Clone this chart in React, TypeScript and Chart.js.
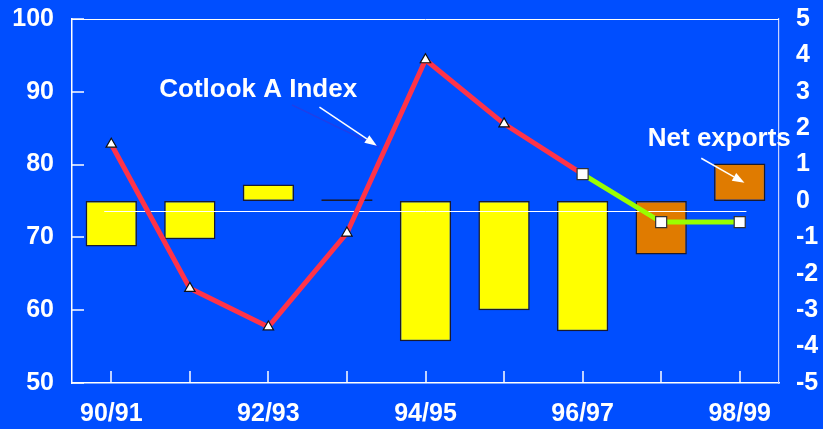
import React, { useEffect, useRef } from 'react';
import { Chart, registerables } from 'chart.js';

Chart.register(...registerables);

// ---------- data ----------
const categories = ['90/91', '91/92', '92/93', '93/94', '94/95', '95/96', '96/97', '97/98', '98/99'];
const labeledCategories = ['90/91', '92/93', '94/95', '96/97', '98/99'];
// Net exports (right axis)
const netExports = [-1.25, -1.05, 0.45, 0.05, -3.85, -3.0, -3.58, -1.47, 1.03];
// Cotlook A Index (left axis)
const cotlookActual = [82.8, 63.0, 57.7, 70.6, 94.4, 85.6, 78.7, null, null];
const cotlookForecast = [null, null, null, null, null, null, 78.7, 72.1, 72.1];
const forecastBarStart = 7;
// left axis
const leftMin = 50;
const leftMax = 100;
const leftStep = 10;
// right axis
const rightMin = -5;
const rightMax = 5;
const rightStep = 1;
// thin reference line (left axis value)
const referenceLevel = 73.6;

// annotations: positions in data coordinates (category index, left-axis value)
const annotations = [
  { text: 'Cotlook A Index', tx: 1.87, ty: 89.35, ax0: 2.65, ay0: 87.9, ax1: 3.38, ay1: 82.6, sx0: 2.3, sy0: 88.2 },
  { text: 'Net exports', tx: 7.74, ty: 82.49, ax0: 7.51, ay0: 80.87, ax1: 8.06, ay1: 77.5, sx0: null, sy0: null },
];

const BLUE = '#004EFF';
const WHITE = '#FFFFFF';
const FONT = '"Liberation Sans", Arial, Helvetica, sans-serif';

const decorPlugin = {
  id: 'decor',
  beforeDraw(chart: any) {
    const ctx = chart.ctx;
    ctx.save();
    ctx.fillStyle = BLUE;
    ctx.fillRect(0, 0, chart.width, chart.height);
    ctx.restore();
  },
  beforeDatasetDraw(chart: any, args: any) {
    if (args.index !== 1) return;
    const ctx = chart.ctx;
    const xs = chart.scales.x;
    const ys = chart.scales.y;
    const step = xs.getPixelForValue(1) - xs.getPixelForValue(0);
    const x0 = xs.getPixelForValue(0) - step * 0.09;
    const x1 = xs.getPixelForValue(categories.length - 1) + step * 0.085;
    const yp = Math.round(ys.getPixelForValue(referenceLevel)) + 0.5;
    ctx.save();
    ctx.strokeStyle = WHITE;
    ctx.lineWidth = 1;
    ctx.beginPath();
    ctx.moveTo(x0, yp);
    ctx.lineTo(x1, yp);
    ctx.stroke();
    ctx.restore();
  },
  afterDatasetsDraw(chart: any) {
    const ctx = chart.ctx;
    const { left, right, top, bottom } = chart.chartArea;
    const xs = chart.scales.x;
    const ys = chart.scales.y;
    ctx.save();
    // top frame line
    ctx.strokeStyle = WHITE;
    ctx.lineWidth = 1;
    ctx.beginPath();
    ctx.moveTo(left, top + 0.5);
    ctx.lineTo(right, top + 0.5);
    ctx.stroke();
    // inward left ticks
    ctx.lineWidth = 1.5;
    ys.ticks.forEach((_t: any, i: number) => {
      const p = Math.round(ys.getPixelForTick(i));
      ctx.beginPath();
      ctx.moveTo(left, p);
      ctx.lineTo(left + 12, p);
      ctx.stroke();
    });
    // inward bottom ticks
    categories.forEach((_c, i) => {
      const p = Math.round(xs.getPixelForValue(i));
      ctx.beginPath();
      ctx.moveTo(p, bottom);
      ctx.lineTo(p, bottom - 12);
      ctx.stroke();
    });
    // annotations
    const px = (v: number) => {
      const a = xs.getPixelForValue(0);
      const b = xs.getPixelForValue(1);
      return a + (b - a) * v;
    };
    const py = (v: number) => ys.getPixelForValue(v);
    annotations.forEach((an) => {
      if (an.sx0 !== null) {
        ctx.strokeStyle = '#1F3FE8';
        ctx.lineWidth = 1.5;
        ctx.beginPath();
        ctx.moveTo(px(an.sx0 as number), py(an.sy0 as number));
        ctx.lineTo(px(an.ax1) + 2, py(an.ay1) + 1.5);
        ctx.stroke();
      }
      const x0 = px(an.ax0), y0 = py(an.ay0), x1 = px(an.ax1), y1 = py(an.ay1);
      const ang = Math.atan2(y1 - y0, x1 - x0);
      const hl = 12, hw = 4.5;
      const bx = x1 - Math.cos(ang) * hl, by = y1 - Math.sin(ang) * hl;
      ctx.strokeStyle = WHITE;
      ctx.fillStyle = WHITE;
      ctx.lineWidth = 1.5;
      ctx.beginPath();
      ctx.moveTo(x0, y0);
      ctx.lineTo(bx, by);
      ctx.stroke();
      ctx.beginPath();
      ctx.moveTo(x1, y1);
      ctx.lineTo(bx + Math.sin(ang) * hw, by - Math.cos(ang) * hw);
      ctx.lineTo(bx - Math.sin(ang) * hw, by + Math.cos(ang) * hw);
      ctx.closePath();
      ctx.fill();
      ctx.font = `bold 26px ${FONT}`;
      ctx.textAlign = 'center';
      ctx.textBaseline = 'alphabetic';
      ctx.fillText(an.text, px(an.tx), py(an.ty));
    });
    ctx.restore();
  },
};

export default function App() {
  const canvasRef = useRef<HTMLCanvasElement | null>(null);

  useEffect(() => {
    document.body.style.margin = '0';
    document.body.style.background = BLUE;
    const canvas = canvasRef.current;
    if (!canvas) return;
    const tickFont = { family: FONT, size: 25, weight: 'bold' as const };
    const chart = new Chart(canvas, {
      data: {
        labels: categories,
        datasets: [
          {
            type: 'line',
            label: 'Cotlook A Index (forecast)',
            data: cotlookForecast,
            yAxisID: 'y',
            borderColor: '#99FF00',
            borderWidth: 5,
            pointStyle: 'rect',
            pointRadius: 7.8,
            pointBackgroundColor: WHITE,
            pointBorderColor: '#333333',
            pointBorderWidth: 1.2,
            spanGaps: false,
            order: 0,
          },
          {
            type: 'line',
            label: 'Cotlook A Index',
            data: cotlookActual,
            yAxisID: 'y',
            borderColor: '#FF3348',
            borderWidth: 5,
            pointStyle: 'triangle',
            pointRadius: cotlookActual.map((_v, i) => (cotlookForecast[i] !== null ? 0 : 6)),
            pointBackgroundColor: WHITE,
            pointBorderColor: '#111111',
            pointBorderWidth: 1.2,
            order: 1,
          },
          {
            type: 'bar',
            label: 'Net exports',
            data: netExports,
            yAxisID: 'y1',
            backgroundColor: netExports.map((_v, i) => (i >= forecastBarStart ? '#E07B00' : '#FFFF00')),
            borderColor: '#1A1A2E',
            borderWidth: 1.5,
            borderSkipped: false,
            categoryPercentage: 1,
            barPercentage: 0.653,
            order: 2,
          },
        ],
      } as any,
      options: {
        responsive: false,
        animation: false,
        devicePixelRatio: 1,
        layout: { padding: { top: 19, left: 0, right: 0, bottom: 0 } },
        plugins: {
          legend: { display: false },
          tooltip: { enabled: false },
        },
        scales: {
          x: {
            type: 'category',
            position: 'bottom',
            offset: true,
            grid: { display: false, drawTicks: false },
            border: { display: true, color: WHITE, width: 1.5 },
            ticks: {
              color: WHITE,
              font: tickFont,
              padding: 16.5,
              maxRotation: 0,
              autoSkip: false,
              callback: (_v: any, i: number) => (labeledCategories.includes(categories[i]) ? categories[i] : ''),
            },
            afterFit: (s: any) => {
              s.height = 46;
              s.paddingLeft = 0;
              s.paddingRight = 0;
            },
          },
          y: {
            type: 'linear',
            position: 'left',
            min: leftMin,
            max: leftMax,
            grid: { display: false, drawTicks: false },
            border: { display: true, color: WHITE, width: 1.5 },
            ticks: { stepSize: leftStep, color: WHITE, font: tickFont, padding: 18 },
            afterFit: (s: any) => {
              s.width = 72;
              s.paddingTop = 0;
              s.paddingBottom = 0;
            },
          },
          y1: {
            type: 'linear',
            position: 'right',
            min: rightMin,
            max: rightMax,
            grid: { display: false, drawTicks: false },
            border: { display: true, color: '#C8D2FF', width: 1.2 },
            ticks: { stepSize: rightStep, color: WHITE, font: tickFont, padding: 17 },
            afterFit: (s: any) => {
              s.width = 44;
              s.paddingTop = 0;
              s.paddingBottom = 0;
            },
          },
        },
      } as any,
      plugins: [decorPlugin],
    });
    return () => chart.destroy();
  }, []);

  return (
    <div style={{ width: 823, height: 429, background: BLUE }}>
      <canvas ref={canvasRef} width={823} height={429} style={{ display: 'block', width: 823, height: 429 }} />
    </div>
  );
}
